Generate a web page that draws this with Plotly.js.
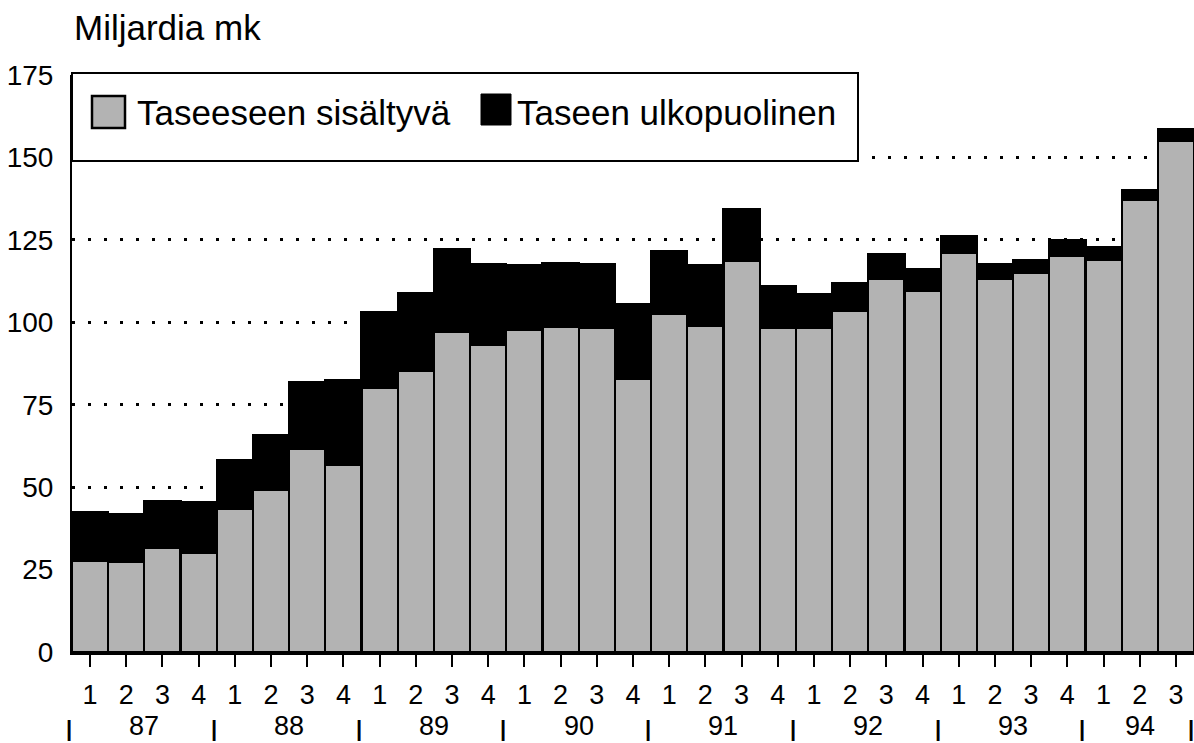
<!DOCTYPE html>
<html>
<head>
<meta charset="utf-8">
<script src="https://cdn.plot.ly/plotly-3.0.1.min.js"></script>
<style>html,body{margin:0;padding:0;background:#fff;}#chart{width:1194px;height:743px;}</style>
</head>
<body>
<div id="chart"></div>
<script>
// ---- Data (billions of marks) ----
const categories = [
  "1987 Q1","1987 Q2","1987 Q3","1987 Q4",
  "1988 Q1","1988 Q2","1988 Q3","1988 Q4",
  "1989 Q1","1989 Q2","1989 Q3","1989 Q4",
  "1990 Q1","1990 Q2","1990 Q3","1990 Q4",
  "1991 Q1","1991 Q2","1991 Q3","1991 Q4",
  "1992 Q1","1992 Q2","1992 Q3","1992 Q4",
  "1993 Q1","1993 Q2","1993 Q3","1993 Q4",
  "1994 Q1","1994 Q2","1994 Q3"
];
const quarterLabels = ["1","2","3","4","1","2","3","4","1","2","3","4","1","2","3","4",
  "1","2","3","4","1","2","3","4","1","2","3","4","1","2","3"];
const yearLabels = ["87","88","89","90","91","92","93","94"];
const onBalance = [27.7, 27.4, 31.7, 30.1, 43.5, 49.1, 61.6, 56.7, 80.2, 85.2, 97.1, 93.0,
  97.6, 98.6, 98.4, 82.9, 102.6, 98.9, 118.6, 98.4, 98.4, 103.6, 113.2, 109.4,
  121.0, 113.2, 114.9, 120.0, 118.8, 137.0, 155.0];
const offBalance = [14.8, 14.4, 14.2, 15.4, 14.7, 16.8, 20.4, 25.7, 22.8, 23.6, 25.2, 24.8,
  19.7, 19.5, 19.1, 22.6, 18.9, 18.4, 15.8, 12.6, 10.0, 8.2, 7.6, 6.7,
  5.1, 4.4, 4.1, 4.8, 4.0, 3.2, 3.7];
const yTicks = [0, 25, 50, 75, 100, 125, 150, 175];
const gridTicks = [25, 50, 75, 100, 125, 150];
const seriesNames = ["Taseeseen sisältyvä", "Taseen ulkopuolinen"];
const unitLabel = "Miljardia mk";

// ---- Style ----
const GRAY = "#b3b3b3";
const BLACK = "#000000";
const FONT = "Liberation Sans, Arial, Helvetica, sans-serif";
const W = 1194, H = 743;
const M = {l: 72, r: 0, t: 75, b: 91};
const plotW = W - M.l - M.r, plotH = H - M.t - M.b;
const px = v => (v - M.l) / plotW;          // pixel x -> paper
const py = v => (H - M.b - v) / plotH;      // pixel y -> paper

// year centres and separators derived from categories
const yearCenters = yearLabels.map(y => {
  const idx = categories.map((c, i) => c.slice(2, 4) === y ? i : -1).filter(i => i >= 0);
  return idx.reduce((a, b) => a + b, 0) / idx.length;
});
const separators = [-0.5];
categories.forEach((c, i) => {
  const next = categories[i + 1];
  if (!next || next.slice(0, 4) !== c.slice(0, 4)) separators.push(i + 0.5);
});

const traces = [
  {type: "bar", x: categories, y: onBalance, name: seriesNames[0],
   marker: {color: GRAY, line: {color: BLACK, width: 2.2}}},
  {type: "bar", x: categories, y: offBalance, name: seriesNames[1],
   marker: {color: BLACK, line: {color: BLACK, width: 2.2}}},
  {type: "scatter", x: [], y: [], yaxis: "y2", showlegend: false, hoverinfo: "skip"}
];

const annotations = [];
annotations.push({text: unitLabel, xref: "paper", yref: "paper", x: 0, y: 1, xanchor: "left",
  yanchor: "middle", yshift: 48, showarrow: false, font: {size: 35, color: BLACK, family: FONT}});
yearLabels.forEach((y, i) => annotations.push({text: y, xref: "x", yref: "paper", x: yearCenters[i],
  y: 0, yanchor: "bottom", yshift: -90, showarrow: false, borderpad: 0,
  font: {size: 27, color: BLACK, family: FONT}}));
separators.forEach(s => annotations.push({text: "<b>|</b>", xref: "x", yref: "paper", x: s, y: 0,
  yanchor: "bottom", yshift: -90, xshift: -3, showarrow: false, borderpad: 0,
  font: {size: 22, color: BLACK, family: FONT}}));
// custom legend labels
annotations.push({text: seriesNames[0], xref: "paper", yref: "paper", x: px(135), y: py(112),
  xanchor: "left", yanchor: "middle", showarrow: false, font: {size: 35, color: BLACK, family: FONT}});
annotations.push({text: seriesNames[1], xref: "paper", yref: "paper", x: px(515), y: py(112),
  xanchor: "left", yanchor: "middle", showarrow: false, font: {size: 35, color: BLACK, family: FONT}});

const shapes = [
  {type: "rect", xref: "paper", yref: "paper", x0: px(72), x1: px(858), y0: py(161), y1: py(73),
   line: {color: BLACK, width: 2}, fillcolor: "#ffffff", layer: "above"},
  {type: "rect", xref: "paper", yref: "paper", x0: px(92), x1: px(125), y0: py(128), y1: py(96),
   line: {color: BLACK, width: 2.5}, fillcolor: GRAY, layer: "above"},
  {type: "rect", xref: "paper", yref: "paper", x0: px(481), x1: px(511), y0: py(125), y1: py(94),
   line: {color: BLACK, width: 1}, fillcolor: BLACK, layer: "above"}
];

const layout = {
  width: W, height: H, margin: M,
  paper_bgcolor: "#ffffff", plot_bgcolor: "#ffffff",
  font: {family: FONT, color: BLACK, size: 28},
  barmode: "stack", bargap: 0, showlegend: false,
  xaxis: {type: "category", range: [-0.5, categories.length - 0.5], tickvals: categories,
    ticktext: quarterLabels, ticks: "outside", ticklen: 12, tickwidth: 2, tickcolor: BLACK,
    showline: true, linecolor: BLACK, linewidth: 2.5, showgrid: false, zeroline: false,
    tickfont: {size: 27, color: BLACK, family: FONT}, ticklabelstandoff: 5, fixedrange: true},
  yaxis: {range: [0, 175], tickvals: yTicks, ticktext: yTicks.map(String), ticks: "",
    showline: true, linecolor: BLACK, linewidth: 2, showgrid: false, zeroline: false,
    tickfont: {size: 28, color: BLACK, family: FONT}, ticklabelstandoff: 11, fixedrange: true},
  yaxis2: {overlaying: "y", range: [0, 175], tickvals: gridTicks, showticklabels: false,
    ticks: "", showline: false, zeroline: false, showgrid: true, gridcolor: BLACK,
    gridwidth: 3, griddash: "3px,13px", fixedrange: true},
  annotations: annotations,
  shapes: shapes
};

Plotly.newPlot("chart", traces, layout, {staticPlot: true, displayModeBar: false});
</script>
</body>
</html>
